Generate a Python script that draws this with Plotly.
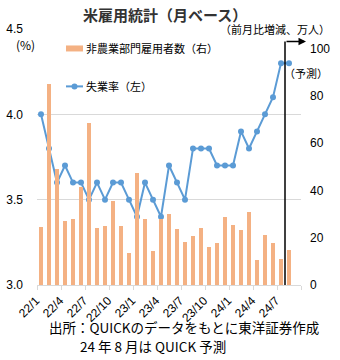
import plotly.graph_objects as go

# Monthly US employment statistics, 2022/1 - 2024/8 (2024/8 is a forecast)
months = [f"{y}/{m}" for y in (22, 23, 24) for m in range(1, 13)][:32]
unemployment = [4.0, 3.8, 3.6, 3.7, 3.6, 3.6, 3.5, 3.6, 3.5, 3.6, 3.6, 3.5,
                3.4, 3.6, 3.5, 3.4, 3.7, 3.6, 3.5, 3.8, 3.8, 3.8, 3.7, 3.7,
                3.7, 3.9, 3.8, 3.9, 4.0, 4.1, 4.3, 4.3]
payrolls = [24.5, 85, 49, 27, 28, 41.5, 68.5, 24, 25, 35.6, 25, 13.4,
            47.5, 28, 14.3, 28, 30, 23.6, 18.3, 20.7, 24.2, 16.2, 17.8, 28.6,
            25.3, 23.2, 30.7, 10.5, 21.2, 17.6, 11.1, 14.8]
left_ticks = [3.0, 3.5, 4.0, 4.5]
right_ticks = [0, 20, 40, 60, 80, 100]
label_every = 3

W, H = 340, 360
L, R, T, B = 37, 39, 28.5, 75
PW, PH = W - L - R, H - T - B

BAR = "#F4B183"
LINE = "#5B9BD5"
GRID = "#D9D9D9"
FONT = "Liberation Sans, Noto Sans CJK JP, sans-serif"
JP = "Noto Sans CJK JP, sans-serif"


def px(x):
    return (x - L) / PW


def py(y):
    return (H - B - y) / PH


idx = list(range(len(months)))

fig = go.Figure()
fig.add_trace(go.Bar(
    x=idx, y=payrolls, yaxis="y2", name="非農業部門雇用者数（右）",
    marker=dict(color=BAR, line_width=0), width=0.42, showlegend=False,
))
fig.add_trace(go.Scatter(
    x=idx, y=unemployment, yaxis="y", name="失業率（左）", mode="lines+markers",
    line=dict(color=LINE, width=2), marker=dict(color=LINE, size=6),
    showlegend=False, cliponaxis=False,
))

tickvals = idx[::label_every]
ticktext = [months[i] for i in tickvals]

fig.update_layout(
    width=W, height=H,
    margin=dict(l=L, r=R, t=T, b=B, pad=0, autoexpand=False),
    paper_bgcolor="white", plot_bgcolor="white",
    font=dict(family=FONT, size=12, color="#000"),
    bargap=0,
    xaxis=dict(
        range=[-0.5, len(months) + 0.5], tickmode="array",
        tickvals=tickvals, ticktext=ticktext, tickangle=-45,
        ticks="", showgrid=False, zeroline=False,
        showline=True, linecolor=GRID, linewidth=1,
        tickfont=dict(size=12), ticklabelshift=-5, ticklabelstandoff=3,
        minor=dict(tick0=-0.5, dtick=label_every, ticks="outside",
                   ticklen=4, tickcolor=GRID, showgrid=False),
    ),
    yaxis=dict(
        range=[3.0, 4.5], tickvals=left_ticks,
        ticktext=[f"{v:.1f}" for v in left_ticks],
        showgrid=True, gridcolor=GRID, gridwidth=1, zeroline=False,
        showline=False, ticks="", ticklabelstandoff=13,
    ),
    yaxis2=dict(
        range=[0, (H - B - T) / 2.37], tickvals=right_ticks,
        overlaying="y", side="right", showgrid=False, zeroline=False,
        showline=False, ticks="", ticklabelstandoff=8,
    ),
)

# forecast divider with arrow
div_x = px(285)
fig.add_shape(type="line", xref="paper", yref="paper",
              x0=div_x, x1=div_x, y0=0, y1=py(41),
              line=dict(color="#000", width=1.5))
fig.add_annotation(xref="paper", yref="paper", x=px(306), y=py(41),
                   ax=-21, ay=0, text="", showarrow=True,
                   arrowhead=2, arrowsize=1, arrowwidth=1.5, arrowcolor="#000")

# legend keys
fig.add_shape(type="rect", xref="paper", yref="paper",
              x0=px(66), x1=px(83), y0=py(51), y1=py(45),
              fillcolor=BAR, line_width=0)
fig.add_shape(type="line", xref="paper", yref="paper",
              x0=px(66), x1=px(83), y0=py(86), y1=py(86),
              line=dict(color=LINE, width=2))
fig.add_shape(type="circle", xref="paper", yref="paper",
              x0=px(71.5), x1=px(77.5), y0=py(89), y1=py(83),
              fillcolor=LINE, line_width=0)


def note(text, x, y, size, anchor="center", **kw):
    fig.add_annotation(xref="paper", yref="paper", x=px(x), y=py(y),
                       text=text, showarrow=False, xanchor=anchor,
                       yanchor="middle", borderpad=0,
                       font=dict(family=JP, size=size,
                                 color=kw.pop("color", "#000")),
                       **kw)


# unit label masks the top gridline; the title is drawn after it so it stays on top
note("（前月比増減、万人）", 219, 29, 11, anchor="left", bgcolor="white")
note("<b>米雇用統計（月ベース）</b>", 165, 14, 15, color="#333")
note("(%)", 25, 44, 12)
note("非農業部門雇用者数（右）", 85, 48, 11, anchor="left")
note("失業率（左）", 85, 86, 11, anchor="left")
note("（予測）", 283, 73, 11, anchor="left")
note("出所：QUICKのデータをもとに東洋証券作成", 184, 327, 13.5)
note("24&nbsp;年&nbsp;8&nbsp;月は&nbsp;QUICK&nbsp;予測", 153, 346, 13.5)

fig.write_html("out.html")
